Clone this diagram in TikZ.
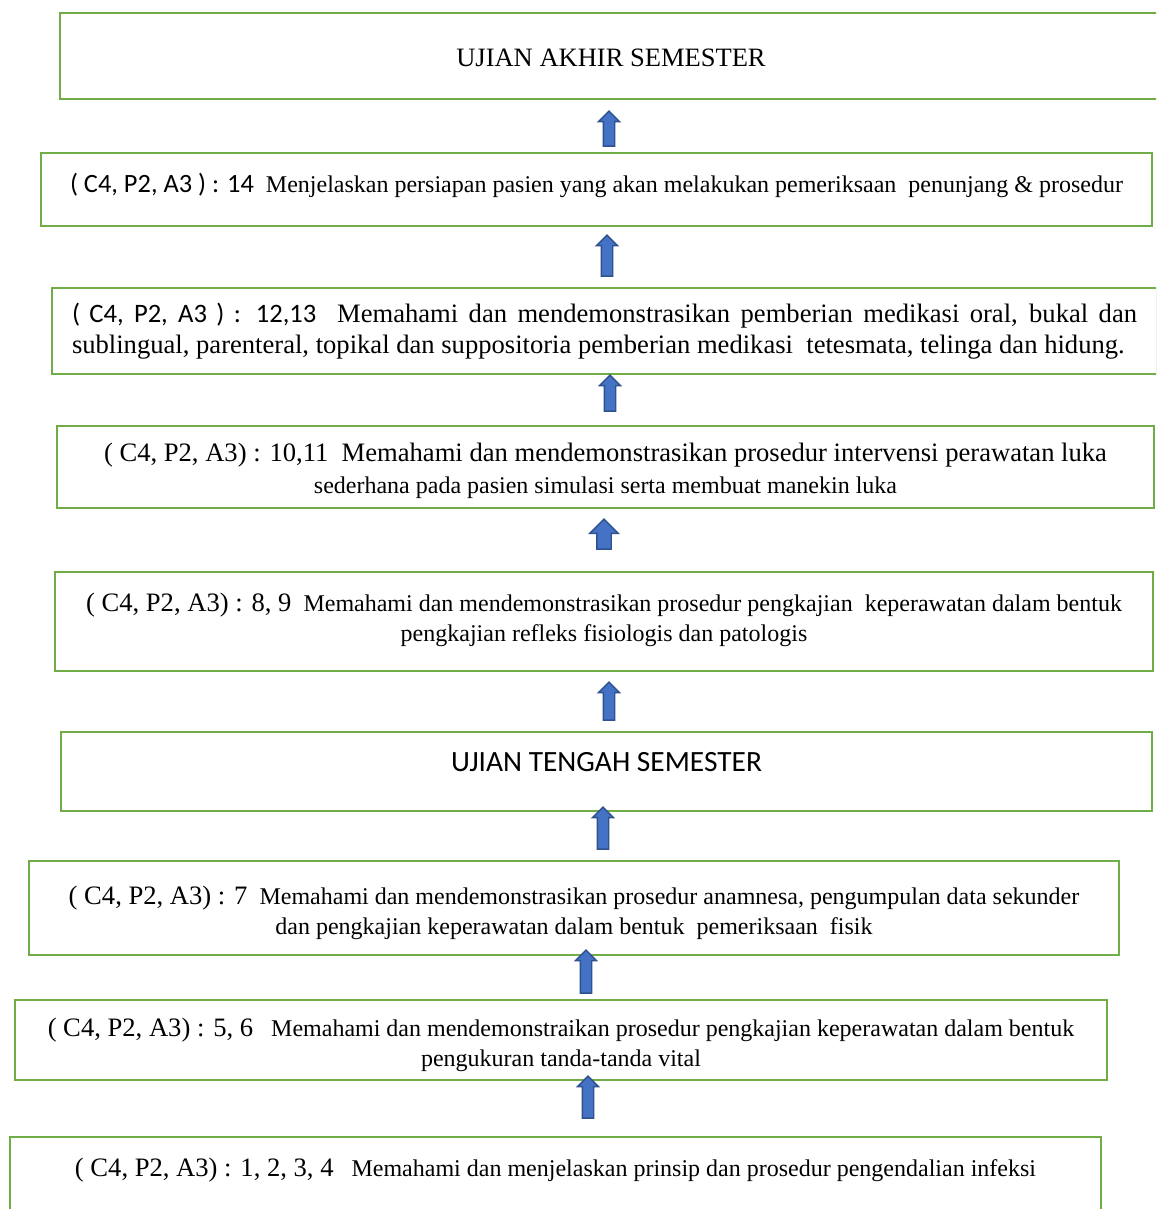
\documentclass[tikz,border=0pt]{standalone}
\usepackage{fontspec}
\setmainfont{Liberation Serif}
\newfontfamily\calibri{Carlito}
\usetikzlibrary{shapes.arrows}
\definecolor{boxgreen}{HTML}{70AD47}
\definecolor{arrowblue}{HTML}{4472C4}
\definecolor{arrowedge}{HTML}{2F528F}
\newcommand{\kode}[1]{{\fontsize{13.3}{15}\selectfont #1}}
\tikzset{
  stagebox/.style={draw=boxgreen, line width=1pt, inner sep=0pt, align=center,
    font=\fontsize{12}{15}\selectfont},
  uparrow/.style={single arrow, rotate=90, fill=arrowblue, draw=arrowedge,
    line width=0.7pt, inner xsep=0pt, inner ysep=2.5pt, minimum height=#1,
    single arrow head indent=0pt, single arrow head extend=2.4pt}
}
\begin{document}
\begin{tikzpicture}[x=0.5pt,y=-0.5pt]
\path[use as bounding box,clip] (0,0) rectangle (1156,1209);
\fill[white] (0,0) rectangle (1156,1209);
% boxes, top to bottom
\node[stagebox,minimum width=551pt,minimum height=43pt,text height=10.8pt,font=\fontsize{13.26}{16}\selectfont] (uas) at (611,56) {UJIAN AKHIR SEMESTER};
\node[stagebox,minimum width=555.5pt,minimum height=36.5pt,text depth=6.6pt] (p14) at (596.5,189.5)
  {{\calibri\fontsize{13.2}{15}\selectfont ( C4, P2, A3 ) : 14}\ \ Menjelaskan persiapan pasien yang akan melakukan pemeriksaan\ \ penunjang \& prosedur};
\node[stagebox,minimum width=552.5pt,minimum height=43pt,text width=532.5pt,align=justify,font=\fontsize{13.3}{15.5}\selectfont] (p1213) at (604.5,331)
  {{\calibri ( C4, P2, A3 ) : 12,13}\ \ Memahami dan mendemonstrasikan pemberian medikasi oral, bukal dan\linebreak
  sublingual, parenteral, topikal dan suppositoria pemberian medikasi\ \ tetesmata, telinga dan hidung.};
\node[stagebox,minimum width=548.5pt,minimum height=41pt,text height=29.2pt,font=\fontsize{13.3}{16}\selectfont] (p1011) at (605.5,467)
  {( C4, P2, A3) : 10,11\ \ Memahami dan mendemonstrasikan prosedur intervensi perawatan luka\\
  {\fontsize{12}{16}\selectfont sederhana pada pasien simulasi serta membuat manekin luka}};
\node[stagebox,minimum width=549pt,minimum height=49.5pt,text height=22.2pt] (p89) at (604,621.5)
  {\kode{( C4, P2, A3) : 8, 9}\ \ Memahami dan mendemonstrasikan prosedur pengkajian\ \ keperawatan dalam bentuk\\
  pengkajian refleks fisiologis dan patologis};
\node[stagebox,minimum width=545.5pt,minimum height=39.5pt,text depth=10pt,font=\calibri\fontsize{14.7}{17}\selectfont] (uts) at (606.5,771.5)
  {UJIAN TENGAH SEMESTER};
\node[stagebox,minimum width=545pt,minimum height=47pt,text height=29.2pt] (p7) at (574,908)
  {\kode{( C4, P2, A3) : 7}\ \ Memahami dan mendemonstrasikan prosedur anamnesa, pengumpulan data sekunder\\
  dan pengkajian keperawatan dalam bentuk\ \ pemeriksaan\ \ fisik};
\node[stagebox,minimum width=546pt,minimum height=40pt,text height=29.2pt] (p56) at (561,1040)
  {\kode{( C4, P2, A3) : 5, 6}\ \ \ Memahami dan mendemonstraikan prosedur pengkajian keperawatan dalam bentuk\\
  pengukuran tanda-tanda vital};
\node[stagebox,minimum width=545.5pt,minimum height=40pt,text depth=10pt] (p1234) at (555.5,1177)
  {\kode{( C4, P2, A3) : 1, 2, 3, 4}\ \ \ Memahami dan menjelaskan prinsip dan prosedur pengendalian infeksi};
% arrows between the boxes
\node[uparrow=17.5pt] (a1) at (609,131.5) {};
\node[uparrow=20.5pt] (a2) at (607,258.5) {};
\node[uparrow=18pt] (a3) at (610,396) {};
\node[uparrow=15pt,inner ysep=3.25pt,single arrow head extend=3.5pt] (a4) at (604,537.7) {};
\node[uparrow=19pt] (a5) at (609,704) {};
\node[uparrow=21pt] (a6) at (603,831) {};
\node[uparrow=21.5pt] (a7) at (586,974.5) {};
\node[uparrow=21pt] (a8) at (588,1100) {};
\end{tikzpicture}
\end{document}
